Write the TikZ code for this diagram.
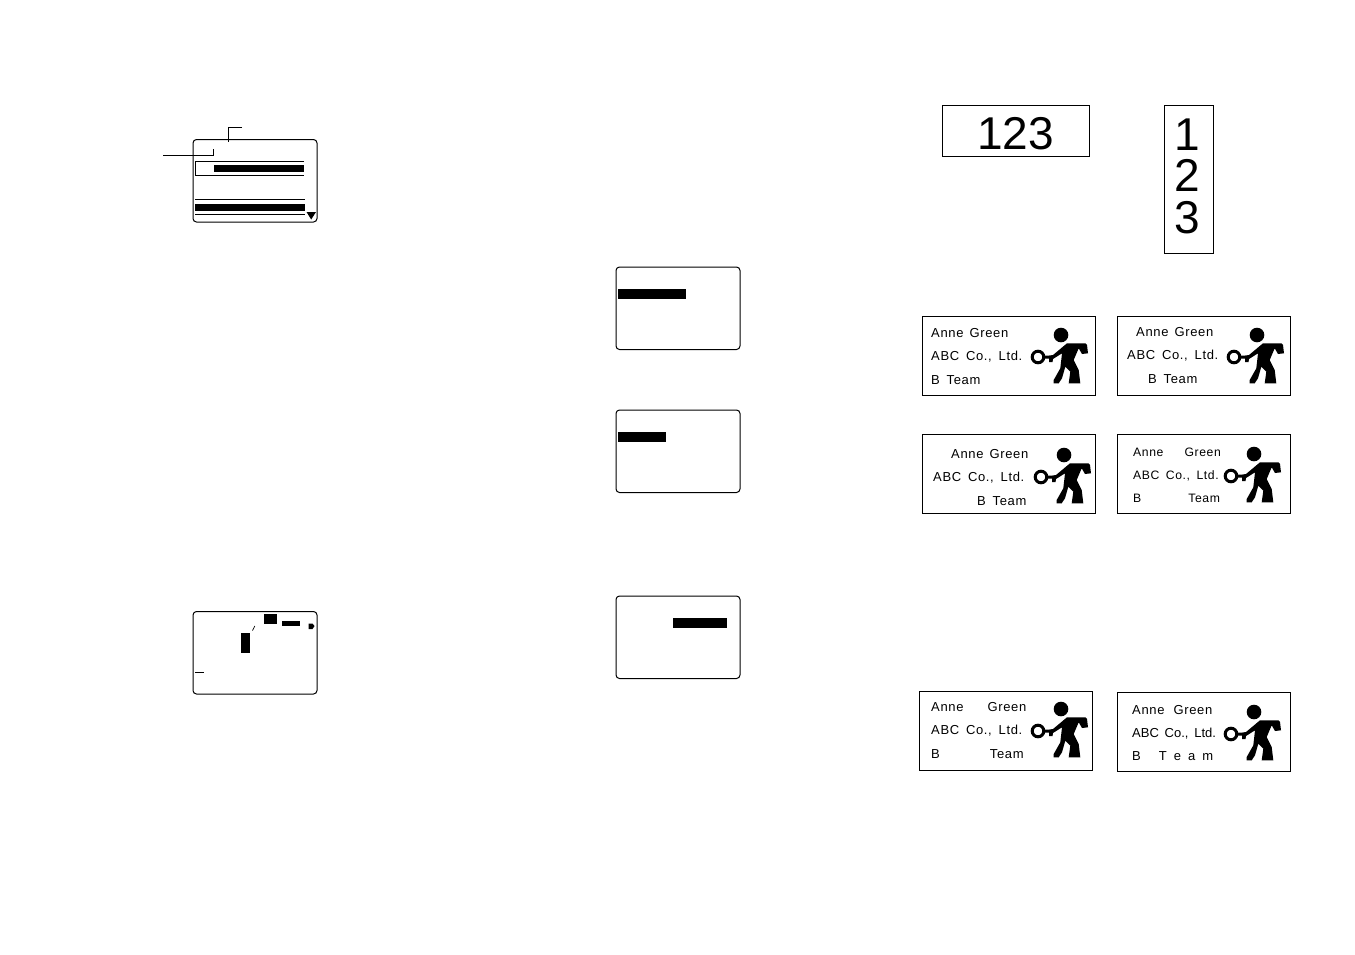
\documentclass[tikz,border=0pt]{standalone}
\usepackage{fontspec}
\setmainfont{Liberation Sans}[LetterSpace=5,WordSpace=1.6]
\newfontfamily\numfont{Liberation Sans}
\tikzset{
  x=1pt,y=-1pt,
  screen/.style={draw=black,line width=1pt,rounded corners=3.5pt,fill=white},
  label box/.style={draw=black,line width=1pt,fill=white},
  bar/.style={fill=black,draw=none},
  cardtext/.style={anchor=base west,inner sep=0pt,font=\fontsize{13}{15}\selectfont},
  smalltext/.style={anchor=base west,inner sep=0pt,font=\fontsize{12.2}{15}\selectfont},
  bignum/.style={anchor=base,inner sep=0pt,font=\numfont\fontsize{46}{46}\selectfont},
  man/.pic={
    \fill (0,0) circle[radius=7.3];
    \draw[line width=3pt] (-23,22) circle[radius=5.8];
    \fill (-17.5,20.7) -- (-13,20.7) -- (-8,20) -- (6,8.3) -- (24.3,8.3) -- (26,10) -- (27,18.3) -- (21,19) -- (17.7,13.3) -- (12.7,25) -- (17.7,35) -- (19.3,48.3) -- (7.7,48.3) -- (9.3,36.7) -- (4.3,31.7) -- (1,43.3) -- (-2.3,48.3) -- (-7.3,48.3) -- (-7.3,45) -- (-0.7,33.3) -- (1,18.3) -- (-8,24) -- (-8.5,27) -- (-12,27) -- (-12,23.7) -- (-17.5,23.7) -- cycle;
  }
}
\begin{document}
\begin{tikzpicture}
\useasboundingbox[fill=white] (0,0) rectangle (1355,954);
% screens
\path[screen] (193,139.5) rectangle (317,222);
\path[screen] (193,611.5) rectangle (317,694);
\path[screen] (616,267) rectangle (740,349.5);
\path[screen] (616,410) rectangle (740,492.5);
\path[screen] (616,596) rectangle (740,678.5);
% callouts
\coordinate (ca) at (242,127); \coordinate (cb) at (228,127); \coordinate (cc) at (228,142);
\coordinate (da) at (163,155.5); \coordinate (db) at (213,155.5); \coordinate (dc) at (213,149);
\draw[line width=0.8pt] (ca) -- (cb) -- (cc);
\draw[line width=0.8pt] (da) -- (db) -- (dc);
% first screen
\draw[line width=0.8pt] (304,161.5) -- (195.5,161.5) -- (195.5,175.5) -- (304,175.5);
\fill[bar] (214,165) rectangle (304,171.5);
\draw[line width=0.8pt] (195,199.5) -- (305,199.5);
\fill[bar] (195,204) rectangle (305,210.5);
\draw[line width=0.8pt] (195,214.5) -- (305,214.5);
\fill (306.5,212) -- (316,212) -- (311.2,219.5) -- cycle;
% second screen
\fill[bar] (241,633) rectangle (250,653);
\fill[bar] (264,614) rectangle (277,624);
\fill[bar] (282,621) rectangle (300,626);
\fill[bar] (308.5,623.5) -- (312.5,623.5) -- (314.5,626) -- (312.5,629) -- (308.5,629) -- cycle;
\draw[line width=0.7pt] (252.5,630.5) -- (254.8,626);
\draw[line width=0.8pt] (195,672) -- (204,672);
% middle bars
\fill[bar] (618,289) rectangle (686,299);
\fill[bar] (618,432) rectangle (666,442);
\fill[bar] (673,618) rectangle (727,628);
% number labels
\node[label box,minimum width=147pt,minimum height=51pt,inner sep=0pt] (n1) at (1015.5,131) {};
\node[bignum] (n1t) at (1015.5,149.3) {123};
\node[label box,minimum width=49pt,minimum height=148pt,inner sep=0pt] (n2) at (1188.5,179.5) {};
\node[inner sep=0pt,align=center,font=\numfont\fontsize{46}{41.5}\selectfont] (n2t) at (1187.5,176) {1\\2\\3};
% cards
\draw[label box] (922.5,316) rectangle (1095.5,395.5);
\draw[label box] (1117.5,316) rectangle (1290.5,395.5);
\draw[label box] (922.5,434.5) rectangle (1095.5,513.5);
\draw[label box] (1117.5,434.5) rectangle (1290.5,513.5);
\draw[label box] (919.5,691.5) rectangle (1092.5,770.5);
\draw[label box] (1117,692.5) rectangle (1290.5,771.5);
\pic at (1061,335) {man};
\pic at (1257,335) {man};
\pic at (1064,455) {man};
\pic at (1254,454) {man};
\pic at (1061,709) {man};
\pic at (1254,712) {man};
% card 1
\node[cardtext] (a1) at (931,337) {Anne\hspace{6pt}Green};
\node[cardtext] (a2) at (931,360) {ABC Co., Ltd.};
\node[cardtext] (a3) at (931,384) {B Team};
% card 2
\node[cardtext] (b1) at (1136,336) {Anne\hspace{6pt}Green};
\node[cardtext] (b2) at (1127,359) {ABC Co., Ltd.};
\node[cardtext] (b3) at (1148,383) {B Team};
% card 3
\node[cardtext] (c1) at (951,458) {Anne\hspace{6pt}Green};
\node[cardtext] (c2) at (933,481) {ABC Co., Ltd.};
\node[cardtext] (c3) at (977,505) {B Team};
% card 4
\node[smalltext] (d1) at (1133,456) {Anne\hspace{21pt}Green};
\node[smalltext] (d2) at (1133,479) {ABC Co., Ltd.};
\node[smalltext] (d3) at (1133,502) {B\hspace{47pt}Team};
% card 5
\node[cardtext] (e1) at (931,711) {Anne\hspace{24pt}Green};
\node[cardtext] (e2) at (931,734) {ABC Co., Ltd.};
\node[cardtext] (e3) at (931,758) {B\hspace{50pt}Team};
% card 6
\node[cardtext] (f1) at (1132,714) {Anne\hspace{9pt}Green};
\node[cardtext] (f2) at (1132,737) {\addfontfeature{LetterSpace=0}ABC Co., Ltd.};
\node[cardtext] (f3) at (1132,760) {B\hspace{18pt}T\hspace{7pt}e\hspace{7pt}a\hspace{7pt}m};
\end{tikzpicture}
\end{document}
